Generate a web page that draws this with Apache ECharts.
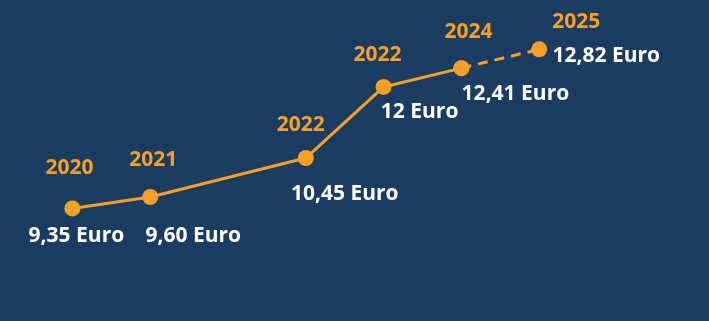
<!DOCTYPE html>
<html><head><meta charset="utf-8">
<script src="https://cdn.jsdelivr.net/npm/echarts@6/dist/echarts.min.js"></script>
<style>html,body{margin:0;padding:0;background:#1b3c61;}#c{width:709px;height:321px;}</style>
</head><body><div id="c"></div>
<script>
const categories = ['2020', '2021', '', '2022', '2022', '2024', '2025'];
const values = [9.35, 9.60, null, 10.45, 12, 12.41, 12.82];
const valueLabels = ['9,35 Euro', '9,60 Euro', '', '10,45 Euro', '12 Euro', '12,41 Euro', '12,82 Euro'];
const dashedFrom = 5;

// label offsets (style only)
const yearOffsets = [[-3,-40],[3,-37],null,[-5,-33],[-6,-32],[7,-36],[37,-27]];
const valueOffsets = [[4,28],[43,39],null,[39,36],[36,25],[54,26],[67,7]];

const ORANGE = '#f7a026';
const FONT = '"Open Sans", sans-serif';

const solid = values.map((v,i)=> i<=dashedFrom ? v : null);
const dashed = values.map((v,i)=> i>=dashedFrom ? v : null);

const yearData = values.map((v,i)=> v==null ? null : {
  value: v,
  label: {formatter: categories[i], offset: yearOffsets[i]}
});
const valData = values.map((v,i)=> v==null ? null : {
  value: v,
  label: {formatter: valueLabels[i], offset: valueOffsets[i]}
});

const chart = echarts.init(document.getElementById('c'));
chart.setOption({
  backgroundColor: '#1b3c61',
  animation: false,
  grid: {left: 72.4, right: 169.8, top: 41.1, bottom: 96.5},
  xAxis: {type: 'category', data: categories, boundaryGap: false, show: false},
  yAxis: {type: 'value', min: 9, max: 13, show: false},
  series: [
    {type: 'line', data: solid, connectNulls: true, symbol: 'circle', symbolSize: 16,
     lineStyle: {color: ORANGE, width: 3}, itemStyle: {color: ORANGE}, z: 3},
    {type: 'line', data: dashed, connectNulls: true, symbol: 'circle', symbolSize: 16,
     lineStyle: {color: ORANGE, width: 3, type: [10, 7]}, itemStyle: {color: ORANGE}, z: 2},
    {type: 'scatter', data: yearData, symbolSize: 1, itemStyle: {color: 'rgba(0,0,0,0)', opacity: 1},
     label: {show: true, position: 'inside', align: 'center', verticalAlign: 'middle',
       color: ORANGE, fontFamily: FONT, fontWeight: 'bold', fontSize: 21}, z: 5},
    {type: 'scatter', data: valData, symbolSize: 1, itemStyle: {color: 'rgba(0,0,0,0)', opacity: 1},
     label: {show: true, position: 'inside', align: 'center', verticalAlign: 'middle',
       color: '#ffffff', fontFamily: FONT, fontWeight: 'bold', fontSize: 21}, z: 5}
  ]
});
</script></body></html>
